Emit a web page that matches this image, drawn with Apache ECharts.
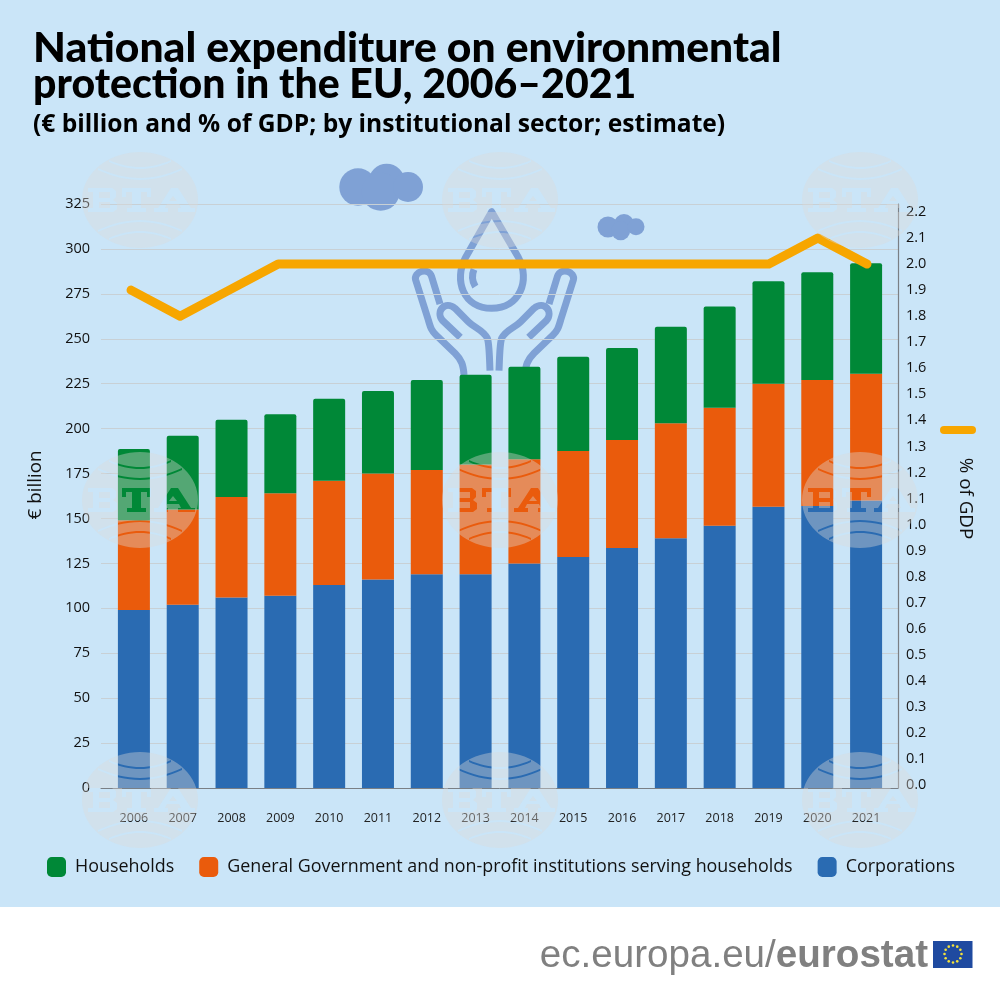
<!DOCTYPE html>
<html><head><meta charset="utf-8">
<style>html,body{margin:0;padding:0;background:#fff}#c{width:1000px;height:1000px}</style>
<script src="https://cdn.jsdelivr.net/npm/echarts@6/dist/echarts.min.js"></script>
</head><body><div id="c"></div>
<script>
const years = ['2006','2007','2008','2009','2010','2011','2012','2013','2014','2015','2016','2017','2018','2019','2020','2021'];
const corporations = [99,102,106,107,113,116,119,119,125,128.6,133.6,139,146,156.5,157,160];
const government = [50,53,56,57,58,59,58,61,58,59,60,64,65.6,68.5,70,70.5];
const households = [39.7,41,43,44,45.6,46,50,50,51.4,52.4,51.3,53.7,56.4,57,60,61.5];
const gdpShare = [1.9,1.8,1.9,2,2,2,2,2,2,2,2,2,2,2,2.1,2];
const titleLine1 = 'National expenditure on environmental';
const titleLine2 = 'protection in the EU, 2006\u20132021';
const subtitleText = '(\u20ac billion and % of GDP; by institutional sector; estimate)';
const seriesNames = ['Households','General Government and non-profit institutions serving households','Corporations'];

const FONT = '"Open Sans"';
const C = {bg:'#cae5f8',green:'#008837',orange:'#ea5b0c',blue:'#2a6bb2',line:'#f7a600',icon:'#7fa1d5',grid:'#c8d0d5',axis:'#7a7f85',text:'#111'};

/* watermark: compound polygon whose holes let the chart show through */
function area(p){let a=0;p.forEach((q,i)=>{const r=p[(i+1)%p.length];a+=q[0]*r[1]-r[0]*q[1]});return a/2}
function poly(p,positive){const o=(area(p)>0)===positive?p:p.slice().reverse();
  return 'M'+o.map(q=>q[0].toFixed(2)+' '+q[1].toFixed(2)).join('L')+'Z'}
function crescent(a,c,b,w){const top=[],bot=[];for(let i=0;i<=16;i++){const t=i/16,u=1-t;
  const x=u*u*a[0]+2*u*t*c[0]+t*t*b[0],y=u*u*a[1]+2*u*t*c[1]+t*t*b[1];top.push([x,y-w/2]);bot.unshift([x,y+w/2])}
  return top.concat(bot)}
function rect(x0,y0,x1,y1){return [[x0,y0],[x1,y0],[x1,y1],[x0,y1]]}
const wmPath=(function(){
  const e=[];for(let i=0;i<72;i++){const t=i/72*Math.PI*2;e.push([58*Math.cos(t),48*Math.sin(t)])}
  let d=poly(e,true);
  const holes=[
    crescent([-31,-39],[0,-25],[31,-39],2),crescent([-42,-31],[0,-11],[42,-31],2),
    crescent([-42,31],[0,11],[42,31],2),crescent([-31,39],[0,25],[31,39],2),
    [[-52,-12],[-28,-12],[-24,-9],[-24,-3],[-27,0],[-23,3],[-23,9],[-27,12],[-52,12],[-52,8],[-47,8],[-47,-8],[-52,-8]],
    [[-18,-12],[11,-12],[11,-3],[7,-3],[7,-8],[1,-8],[1,8],[6,8],[6,12],[-13,12],[-13,8],[-8,8],[-8,-8],[-14,-8],[-14,-3],[-18,-3]],
    [[31,-12],[38,-12],[51,8],[55,8],[55,12],[38,12],[38,8],[41,8],[39,4],[27,4],[25,8],[28,8],[28,12],[14,12],[14,8],[18,8]]
  ];
  holes.forEach(h=>d+=poly(h,false));
  d+=poly([[33,-4],[37,1],[29,1]],true);
  d+=poly(rect(-41,-8,-30,-2),true)+poly(rect(-41,2,-30,8),true);
  return d})();
const wmCentres=[];[200,500,800].forEach(y=>[140,500,860].forEach(x=>wmCentres.push([x,y])));

const handPath='M192 525C190 495 185 480 165 460L108 405C95 392 92 385 85 360L47 240C40 215 85 200 95 230L120 312'+
  'M181 412L128 362C105 335 135 300 165 325L205 365C225 385 250 390 262 415C268 430 268 470 270 512';
const dropPath='M275 35L197 172C160 240 190 325 275 325C360 325 392 240 355 172Z M226 260C214 240 215 225 222 208';
echarts.graphic.registerShape('wmShape',echarts.graphic.extendPath(wmPath,{}));
echarts.graphic.registerShape('handShape',echarts.graphic.extendPath(handPath,{}));
echarts.graphic.registerShape('dropShape',echarts.graphic.extendPath(dropPath,{}));
const iconStyle={fill:'none',stroke:C.icon,lineWidth:21,lineCap:'butt',lineJoin:'round'};
const clouds=[[358,187,18.7],[386.7,181.7,18],[380.7,191.7,19],[408,187,15],[608,227,10.5],[624,224,10],[620.7,230.7,9.5],[636,226.7,8.5]];
const stars=[];for(let i=0;i<12;i++){const t=i/12*Math.PI*2;stars.push([953+8.5*Math.cos(t),954+8.5*Math.sin(t)])}

const graphics=[
  {type:'rect',z:-10,silent:true,shape:{x:0,y:0,width:1000,height:907},style:{fill:C.bg}},
  ...clouds.map(c=>({type:'circle',z:-5,silent:true,shape:{cx:c[0],cy:c[1],r:c[2]},style:{fill:C.icon}})),
  {type:'dropShape',z:-5,silent:true,x:400,y:200,scaleX:1/3,scaleY:1/3,style:iconStyle},
  {type:'handShape',z:-5,silent:true,x:400,y:200,scaleX:1/3,scaleY:1/3,style:iconStyle},
  {type:'handShape',z:-5,silent:true,x:589,y:200,scaleX:-1/3,scaleY:1/3,style:iconStyle},
  {type:'rect',silent:true,z:5,shape:{x:940,y:426,width:36,height:8,r:4},style:{fill:C.line}},
  {type:'text',silent:true,z:5,x:928,y:956,style:{text:'{a|ec.europa.eu/}{b|eurostat}',align:'right',verticalAlign:'middle',
    rich:{a:{fontFamily:'"Liberation Sans"',fontSize:38.6,fill:'#808080',fontWeight:'normal'},b:{fontFamily:'"Liberation Sans"',fontSize:38.6,fill:'#808080',fontWeight:'bold'}}}},
  {type:'rect',silent:true,z:5,shape:{x:933,y:941,width:39.5,height:27},style:{fill:'#1f4aa0'}},
  ...stars.map(s=>({type:'circle',silent:true,z:6,shape:{cx:s[0],cy:s[1],r:1.3},style:{fill:'#f5e33a'}})),
  ...wmCentres.map(c=>({type:'wmShape',silent:true,z:100,x:c[0],y:c[1],style:{fill:'rgba(222,218,215,0.38)'}}))
];

const numLabel={color:C.text,fontFamily:FONT,fontSize:14.5};
const option={
  backgroundColor:'#fff',animation:false,textStyle:{fontFamily:FONT},
  title:[
    {text:titleLine1,left:28,top:22,textStyle:{fontFamily:'Lato',fontWeight:900,fontSize:42.6,color:'#000'}},
    {text:titleLine2,left:28,top:59,textStyle:{fontFamily:'Lato',fontWeight:900,fontSize:41,color:'#000'}},
    {text:subtitleText,left:28,top:107,textStyle:{fontFamily:FONT,fontWeight:700,fontSize:24.6,color:'#000'}}
  ],
  grid:[
    {left:101,width:797,top:204,bottom:212},
    {left:109.5,width:781,top:204,bottom:212},
    {left:106.5,width:785,top:212,height:573}
  ],
  xAxis:[
    {gridIndex:0,type:'category',data:years,axisLabel:{show:false},axisTick:{show:false},axisLine:{lineStyle:{color:C.axis,width:1}}},
    {gridIndex:1,type:'category',data:years,axisLine:{show:false},axisTick:{show:false},axisLabel:{color:'#222',fontFamily:FONT,fontSize:12.5,margin:24}},
    {gridIndex:2,type:'category',data:years,boundaryGap:true,show:false}
  ],
  yAxis:[
    {gridIndex:0,type:'value',position:'right',min:0,max:325,interval:25,axisLabel:{show:false},axisTick:{show:false},
      axisLine:{show:true,lineStyle:{color:C.axis,width:1.2}},splitLine:{show:true,lineStyle:{color:C.grid,width:1}}},
    {gridIndex:1,type:'value',min:0,max:325,interval:25,offset:9,axisLine:{show:false},axisTick:{show:false},splitLine:{show:false},
      axisLabel:{...numLabel,margin:10.5},
      name:'\u20ac billion',nameLocation:'middle',nameRotate:90,nameGap:55,nameTextStyle:{color:C.text,fontFamily:FONT,fontSize:18.8,padding:[0,0,0,22]}},
    {gridIndex:2,type:'value',position:'right',min:0,max:2.2,interval:0.1,offset:6.5,axisLine:{show:false},axisTick:{show:false},splitLine:{show:false},
      axisLabel:{...numLabel,margin:8,formatter:v=>v.toFixed(1)},
      name:'% of GDP',nameLocation:'middle',nameRotate:-90,nameGap:46,nameTextStyle:{color:C.text,fontFamily:FONT,fontSize:18.8,padding:[0,0,12,0]}}
  ],
  legend:{left:42,top:852,itemWidth:19,itemHeight:20,itemGap:25,icon:'roundRect',
    data:[seriesNames[0],seriesNames[1],seriesNames[2]],textStyle:{color:C.text,fontFamily:FONT,fontSize:17.9,padding:[0,0,0,4]}},
  graphic:{elements:graphics},
  series:[
    {name:seriesNames[2],type:'bar',stack:'t',xAxisIndex:1,yAxisIndex:1,barWidth:32,data:corporations,itemStyle:{color:C.blue}},
    {name:seriesNames[1],type:'bar',stack:'t',xAxisIndex:1,yAxisIndex:1,barWidth:32,data:government,itemStyle:{color:C.orange}},
    {name:seriesNames[0],type:'bar',stack:'t',xAxisIndex:1,yAxisIndex:1,barWidth:32,data:households,itemStyle:{color:C.green,borderRadius:[2,2,0,0]}},
    {name:'% of GDP',type:'line',xAxisIndex:2,yAxisIndex:2,data:gdpShare,showSymbol:false,symbol:'none',z:5,
      lineStyle:{color:C.line,width:9,cap:'round',join:'round'}}
  ]
};
echarts.init(document.getElementById('c')).setOption(option);
</script></body></html>
